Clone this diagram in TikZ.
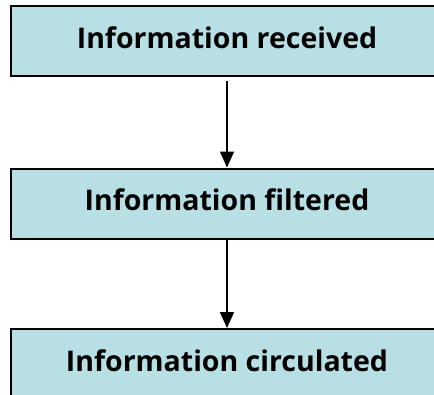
\documentclass[tikz,border=0pt]{standalone}
\usepackage{fontspec}
\setmainfont{Open Sans}
\usetikzlibrary{arrows.meta}
\definecolor{boxfill}{RGB}{184,224,228}
\tikzset{
  stage/.style={draw=black, line width=2pt, fill=boxfill,
    minimum width=432pt, minimum height=70pt, inner sep=0pt,
    text height=14pt, text depth=0pt,
    font=\fontsize{28.5}{32}\selectfont\bfseries},
  flow/.style={line width=1.7pt, -{Triangle[width=14pt,length=16pt]}}
}
\begin{document}
\begin{tikzpicture}[x=1pt, y=-1pt]
  \useasboundingbox (0,0) rectangle (434,394);
  \clip (0,0) rectangle (434,394);
  \node[stage] (recv) at (227,41) {Information received};
  \node[stage] (filt) at (227,203.5) {Information filtered};
  \node[stage] (circ) at (227,364) {Information circulated};
  \draw[flow, shorten <=4pt] (recv.south) -- (filt.north);
  \draw[flow] (filt.south) -- (circ.north);
\end{tikzpicture}
\end{document}
